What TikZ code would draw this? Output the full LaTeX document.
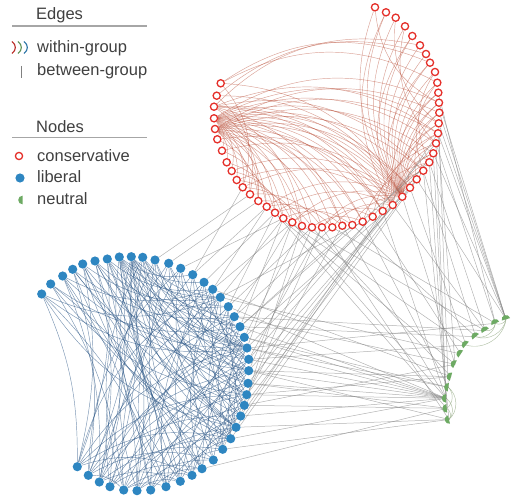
\documentclass[tikz,border=0pt]{standalone}
\usepackage{fontspec}
\setmainfont{Liberation Sans}
\usetikzlibrary{backgrounds}

\definecolor{consred}{HTML}{E5302A}
\definecolor{libblue}{HTML}{2E86C1}
\definecolor{neutgreen}{HTML}{6DAA63}
\definecolor{redline}{HTML}{B5452E}
\definecolor{blueline}{HTML}{2A5585}
\definecolor{greenline}{HTML}{8FA67F}
\definecolor{greyline}{HTML}{808080}
\definecolor{legtext}{HTML}{404040}

\tikzset{
  cons/.style={circle,draw=consred,fill=white,line width=1.3pt,minimum size=7.2pt,inner sep=0pt},
  lib/.style={circle,fill=libblue,minimum size=9.2pt,inner sep=0pt},
  within/.style={line width=.45pt,opacity=.5},
  between/.style={draw=greyline,line width=.5pt,opacity=.6},
  legtxt/.style={anchor=base west,text=legtext,inner sep=0pt,font=\fontsize{16.5}{19}\selectfont},
  legrule/.style={draw=black!35,line width=1.2pt},
}

\begin{document}
\begin{tikzpicture}[x=1pt,y=-1pt]
  \useasboundingbox (0,0) rectangle (514,500);

  % legend
  \node[legtxt] (edgeshd) at (36,19.5) {Edges};
  \draw[legrule] (12,26) -- (147,26);
  \draw[line width=1.1pt,consred!80!black]  (12,41.5) .. controls (16.5,45) and (16.5,50) .. (12,53.5);
  \draw[line width=1.1pt,neutgreen!85!black] (18,41.5) .. controls (22.5,45) and (22.5,50) .. (18,53.5);
  \draw[line width=1.1pt,libblue!85!black]   (24,41.5) .. controls (28.5,45) and (28.5,50) .. (24,53.5);
  \node[legtxt] (withintx) at (37,52.5) {within-group};
  \draw[greyline,line width=.8pt] (21.5,66) -- (21.5,78);
  \node[legtxt] (betweentx) at (37,76) {between-group};

  \node[legtxt] (nodeshd) at (36,132.5) {Nodes};
  \draw[legrule] (12,137.5) -- (147,137.5);
  \node[cons] (lcons) at (19,156) {};
  \node[legtxt] (constx) at (37,161.5) {conservative};
  \node[lib] (llib) at (20,178) {};
  \node[legtxt] (libtx) at (37,182.5) {liberal};
  \fill[neutgreen] (22.5,200) ++(90:4.3) arc[start angle=90,end angle=270,radius=4.3] -- cycle;
  \node[legtxt] (neuttx) at (37,204) {neutral};

  % conservative
  \foreach \i/\x/\y in {1/375/7.3, 2/386/12.3, 3/395.7/17.7, 4/405/26.3, 5/412.3/36,
      6/420/45.3, 7/426/54, 8/430/62.7, 9/435/72, 10/437.3/82.7, 11/438.3/92.7,
      12/439/102.7, 13/439.3/112.7, 14/438.7/123.3, 15/438/133.3, 16/436/143.3,
      17/433.3/153.3, 18/429.3/162.3, 19/423.3/170.7, 20/416.7/179.3, 21/410/187.7,
      22/402.3/196.7, 23/392.7/205, 24/382.7/211, 25/372.7/216.7, 26/362.7/221.7,
      27/352.3/225, 28/342.3/225.7, 29/332.3/227.3, 30/322/227.3, 31/312/227.3,
      32/302/226, 33/292.3/222.3, 34/283.3/218.3, 35/275/212.7, 36/266.7/206.7,
      37/258.3/201, 38/250/194.3, 39/242.7/187.3, 40/236.7/180, 41/231.7/171,
      42/226.7/162.3, 43/222/150.7, 44/217.3/139.3, 45/215/129, 46/214/118.3,
      47/214/106.7, 48/216.7/95.7, 49/220.7/83.3}
    \node[cons] (r\i) at (\x,\y) {};

  % liberal
  \foreach \i/\x/\y in {1/41.7/294, 2/50.7/284, 3/62.7/276, 4/72.7/269.3, 5/82.7/264,
      6/95/261, 7/107.3/259, 8/119.3/257, 9/131.3/256.7, 10/142.7/257.3, 11/155/260,
      12/168.7/263.3, 13/180.7/268.3, 14/192.7/274.7, 15/204/282.3, 16/212.7/289.3,
      17/220.3/297.3, 18/228.3/306.7, 19/234.3/316.7, 20/240/326.7, 21/244.3/337.3,
      22/247/348, 23/248.7/359.3, 24/248.7/370.7, 25/248/383.3, 26/246.7/394.7,
      27/244.3/405.3, 28/240.7/416, 29/236/427.3, 30/230.7/438.7, 31/222.7/449.3,
      32/213.3/460, 33/202/468.7, 34/192/475.3, 35/180.3/481.3, 36/166/486.7,
      37/150.7/490, 38/137/490.7, 39/123.7/490, 40/110/486.7, 41/99.3/482,
      42/88.3/475.3, 43/77.3/466.7}
    \node[lib] (b\i) at (\x,\y) {};

  % neutral (half discs, open side towards the ring centre)
  \foreach \i/\x/\y in {1/449/419.5, 2/446.7/408.3, 3/446/398.3, 4/448.3/387.3,
      5/451/376.7, 6/455/364.3, 7/460.7/354, 8/466/345, 9/475.7/336.7,
      10/485.3/330.7, 11/495.3/323.3, 12/506/319.3} {
    \coordinate (g\i) at (\x,\y);
    \pgfmathsetmacro\ang{atan2(\y-400,\x-530)}
    \fill[neutgreen] (g\i) ++(\ang-90:4.3) arc[start angle=\ang-90,end angle=\ang+90,radius=4.3] -- cycle;
  }

  \begin{pgfonlayer}{background}
    % within-group, conservative
    \foreach \i in {1,...,20}
      \draw[within,draw=redline] (r\i) to[bend right=28] (r22);
    \foreach \i/\list in {22/{27,30,33,36,39,41,43,45,46,47,48,49},
        23/{29,35,40,44,46,47}, 7/{48}, 8/{49}, 6/{47}, 10/{49},
        24/{30}, 25/{33}, 26/{31}, 27/{34}, 28/{35}, 29/{36}, 30/{38}, 31/{37},
        32/{39}, 33/{40}, 34/{41}, 35/{42}, 36/{43}, 37/{44}, 38/{48}, 39/{49},
        9/{18}, 10/{19}, 12/{21}, 13/{20}, 15/{24}, 16/{25}, 18/{26}, 3/{14}, 1/{12}, 4/{16}}
      \foreach \j in \list
        \draw[within,draw=redline] (r\i) to[bend right=28] (r\j);
    \foreach \j/\list in {23/{2,5,8,11,14,17,19},
        46/{12,14,16,18,20,21,24,25,26,28,29,31,33,35,37,39,41,43,44},
        45/{13,15,17,19,21,24,26,27,30,32,34,36,38,40,42},
        47/{15,19,24,28,32,37}}
      \foreach \i in \list
        \draw[within,draw=redline] (r\i) to[bend right=28] (r\j);

    % within-group, liberal
    \foreach \i/\list in {8/{14,17,20,22,24,26,29,31,35},
        9/{15,18,19,22,23,25,27,29,30,33,36}, 7/{16,21,24,28,32},
        10/{17,20,22,26,29,34,39}, 6/{18,22,25,30}, 11/{22,24,29,33,38},
        12/{20,23,28,35,40}, 5/{17,23,27,31}, 4/{19,24,30},
        3/{16,22,29}, 2/{20,26}, 1/{17,22,29},
        13/{22,26,31,37,42}, 14/{21,25,30,39}, 15/{22,28,34,40},
        16/{23,27,32,36,43}, 17/{24,29,33,38,41}, 18/{22,25,31,37},
        19/{26,30,35,42}, 20/{27,32,39}, 21/{29,34,40}, 22/{28,31,36,41,43},
        23/{30,33,38}, 24/{29,35,39,42}, 25/{31,37,41}, 26/{30,34,40,43},
        27/{33,38}, 28/{32,36,42}, 29/{31,34,37,39}, 30/{35,40,43}, 31/{36,41},
        32/{38,42}, 33/{37,40}, 34/{39,43}, 35/{38,41}, 36/{39}, 39/{42}}
      \foreach \j in \list
        \draw[within,opacity=.62,draw=blueline] (b\i) to[bend right=22] (b\j);
    \foreach \i/\j in {8/38, 8/41, 9/40, 9/42, 7/37, 7/43, 6/36, 6/41, 5/38, 5/43,
        4/35, 4/42, 3/37, 3/41, 2/33, 2/39, 1/36, 1/43}
      \draw[within,opacity=.62,draw=blueline] (b\i) to[bend left=12] (b\j);

    % within-group, neutral
    \foreach \i/\j in {8/12, 9/12, 10/11, 9/11, 11/12, 1/4, 1/3, 1/2, 2/4}
      \draw[within,opacity=.7,draw=greenline] (g\i) to[bend right=50] (g\j);

    % between-group
    \foreach \i/\j in {36/14, 36/16, 35/15, 35/18, 34/13, 34/17, 34/20, 33/16, 33/19,
        33/22, 32/21, 31/18, 31/24, 30/23, 29/19, 28/26, 27/20, 25/22, 24/28, 23/25,
        22/21, 21/27, 20/24, 19/30, 18/20, 17/26, 16/23, 15/29, 37/12, 38/11, 39/14,
        26/17, 30/31, 32/28}
      \draw[between] (r\i) -- (b\j);
    \foreach \i/\j in {13/12, 14/12, 15/12, 16/11, 17/12, 18/10, 19/9, 20/12, 21/8,
        15/6, 14/4, 16/3, 17/2, 18/3, 19/1, 12/12, 11/11, 22/6, 23/10, 24/3, 25/7,
        26/4, 27/9, 31/5, 33/3, 34/8, 35/2, 29/11, 36/6, 30/1, 28/3, 32/10}
      \draw[between] (r\i) -- (g\j);
    \foreach \i/\j in {20/3, 21/3, 22/3, 23/3, 24/3, 25/3, 26/3, 28/3, 30/3, 18/3,
        22/4, 24/5, 19/6, 27/2, 29/1, 17/7, 21/4, 25/2, 23/8, 26/5, 20/9, 31/1,
        16/5, 19/10, 22/11, 27/6, 24/1, 33/2}
      \draw[between] (b\i) -- (g\j);
  \end{pgfonlayer}
\end{tikzpicture}
\end{document}
